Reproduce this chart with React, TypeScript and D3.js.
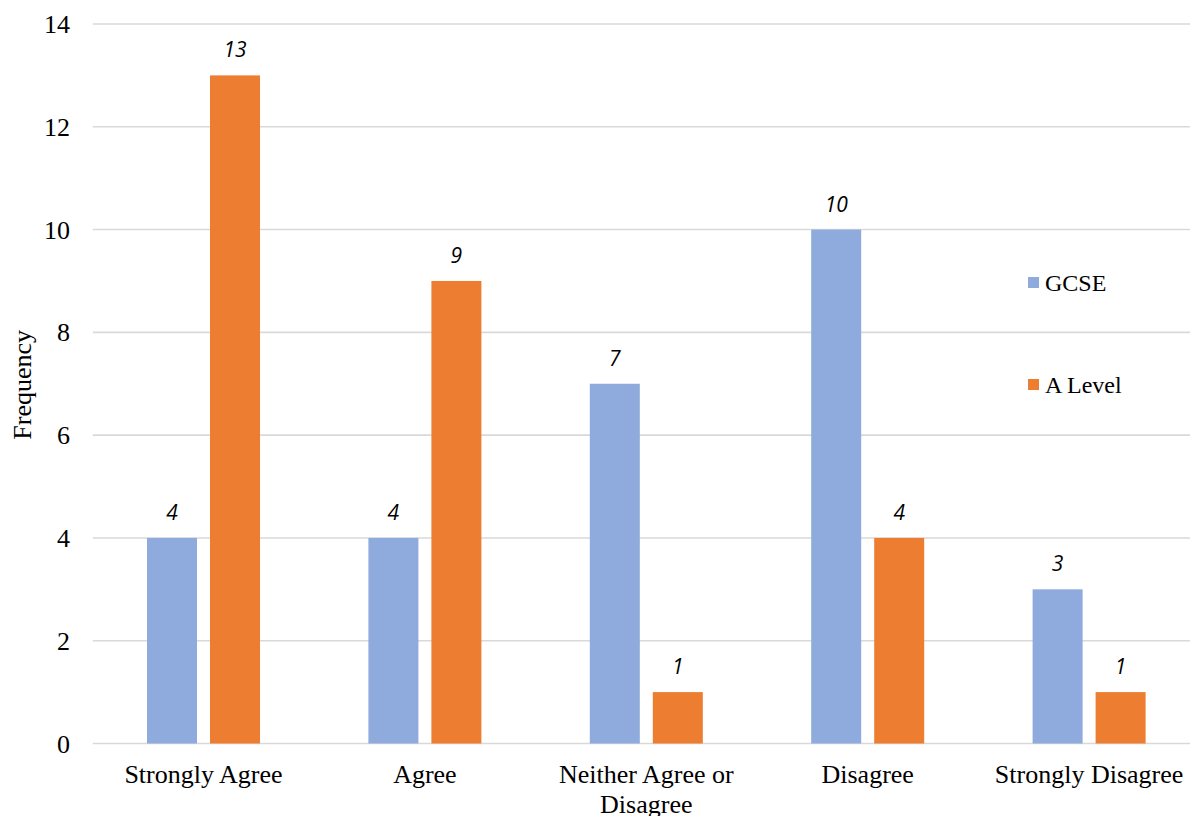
import React from "react";
import * as d3 from "d3";

const categories = [
  "Strongly Agree",
  "Agree",
  "Neither Agree or Disagree",
  "Disagree",
  "Strongly Disagree",
];
const seriesNames = ["GCSE", "A Level"];
const gcseValues = [4, 4, 7, 10, 3];
const aLevelValues = [13, 9, 1, 4, 1];
const yTicks = [0, 2, 4, 6, 8, 10, 12, 14];
const seriesColors = ["#8faadc", "#ed7d31"];

const W = 1190;
const H = 816;
const plotLeft = 92.8;
const plotRight = 1199.8;
const plotTop = 24;
const plotBottom = 743.5;

function wrapLabel(label: string): string[] {
  if (label === "Neither Agree or Disagree") return ["Neither Agree or", "Disagree"];
  return [label];
}

export default function App() {
  const x0 = d3.scaleBand<string>().domain(categories).range([plotLeft, plotRight]).padding(0);
  const band = x0.bandwidth();
  const groupW = 113;
  const side = (band - groupW) / 2;
  const x1 = d3
    .scaleBand<string>()
    .domain(seriesNames)
    .range([side, side + groupW])
    .paddingInner(2 - groupW / 63)
    .paddingOuter(0);
  const y = d3.scaleLinear().domain([0, 14]).range([plotBottom, plotTop]);
  const values = [gcseValues, aLevelValues];

  const serif = "'Liberation Serif', 'Times New Roman', serif";

  return (
    <svg
      width={W}
      height={H}
      style={{ position: "absolute", left: 0, top: 0, background: "#fff" }}
    >
      {/* horizontal gridlines */}
      {yTicks.map((t) => (
        <line
          key={"g" + t}
          x1={plotLeft}
          x2={W}
          y1={y(t)}
          y2={y(t)}
          stroke="#d9d9d9"
          strokeWidth={1.6}
        />
      ))}
      {/* y tick labels */}
      {yTicks.map((t) => (
        <text
          key={"t" + t}
          x={70}
          y={y(t)}
          dy="0.35em"
          textAnchor="end"
          fontFamily={serif}
          fontSize={26}
          fill="#000"
        >
          {t}
        </text>
      ))}
      <text
        transform={`translate(31, ${(plotTop + plotBottom) / 2 + 1}) rotate(-90)`}
        textAnchor="middle"
        fontFamily={serif}
        fontSize={26}
        fill="#000"
      >
        Frequency
      </text>

      {/* bars and value labels */}
      {categories.map((c, i) => (
        <g key={c} transform={`translate(${x0(c)},0)`}>
          {seriesNames.map((s, j) => {
            const v = values[j][i];
            const bx = x1(s)!;
            return (
              <g key={s}>
                <rect
                  x={bx}
                  y={y(v)}
                  width={x1.bandwidth()}
                  height={y(0) - y(v)}
                  fill={seriesColors[j]}
                />
                <text
                  x={bx + x1.bandwidth() / 2}
                  y={y(v) - 18}
                  textAnchor="middle"
                  fontFamily="'Open Sans', 'Liberation Sans', sans-serif"
                  fontStyle="italic"
                  fontSize={21}
                  fill="#000"
                >
                  {v}
                </text>
              </g>
            );
          })}
          {wrapLabel(c).map((line, k) => (
            <text
              key={k}
              x={band / 2}
              y={783 + k * 30}
              textAnchor="middle"
              fontFamily={serif}
              fontSize={26}
              fill="#000"
            >
              {line}
            </text>
          ))}
        </g>
      ))}

      {/* legend */}
      {seriesNames.map((s, j) => (
        <g key={"l" + s} transform={`translate(1028, ${277 + j * 102})`}>
          <rect x={0} y={0} width={11} height={11} fill={seriesColors[j]} />
          <text x={17} y={14} fontFamily={serif} fontSize={24} fill="#000">
            {s}
          </text>
        </g>
      ))}
    </svg>
  );
}
